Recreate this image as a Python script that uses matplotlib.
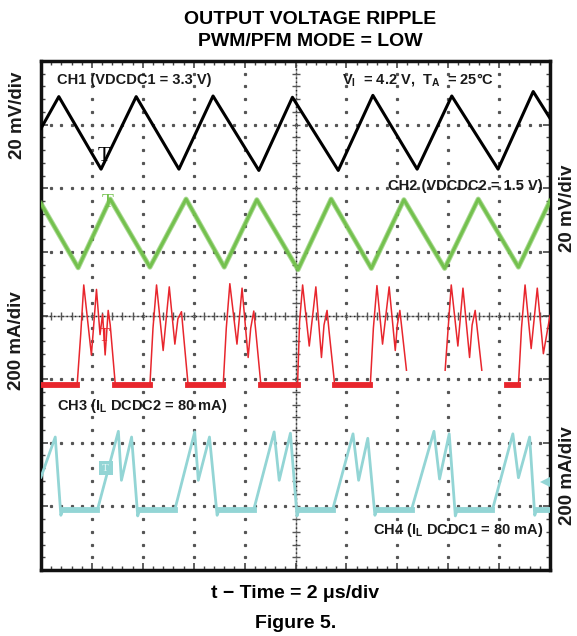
import numpy as np
import matplotlib
matplotlib.use("Agg")
import matplotlib.pyplot as plt

plt.rcParams['font.family'] = ['Liberation Sans', 'DejaVu Sans']
plt.rcParams['mathtext.fontset'] = 'custom'
plt.rcParams['mathtext.rm'] = 'Liberation Sans'
plt.rcParams['mathtext.bf'] = 'Liberation Sans:bold'
plt.rcParams['mathtext.it'] = 'Liberation Sans:italic'

# screen divisions (time: 2 us/div, 10 div; amplitude: 8 div)
# CH1 VDCDC1 ripple (black)
ch1_x = [0.0, 0.35, 1.18, 1.87, 2.71, 3.38, 4.28, 4.94, 5.84, 6.52, 7.39, 8.07, 8.98, 9.67, 10.0]
ch1_y = [2.94, 3.44, 2.30, 3.44, 2.30, 3.45, 2.28, 3.43, 2.28, 3.46, 2.30, 3.45, 2.30, 3.52, 3.10]

# CH2 VDCDC2 ripple (green)
ch2_x = [0.0, 0.73, 1.36, 2.14, 2.85, 3.60, 4.24, 5.05, 5.70, 6.49, 7.13, 7.93, 8.59, 9.38, 10.0]
ch2_y = [1.76, 0.75, 1.83, 0.76, 1.83, 0.76, 1.82, 0.72, 1.83, 0.74, 1.82, 0.74, 1.83, 0.76, 1.80]

# CH3 inductor current DCDC2 (red), nan = no trace
ch3_x = [0.0, 0.71, 0.78, 0.84, 0.99, 1.09, 1.16, 1.21, 1.26, 1.32, 1.36, 1.46,
         2.14, 2.20, 2.27, 2.40, 2.52, 2.63, 2.69, 2.76, 2.80, 2.89,
         3.58, 3.64, 3.71, 3.85, 3.95, 4.07, 4.12, 4.18, 4.22, 4.32,
         5.04, 5.08, 5.14, 5.27, 5.40, 5.51, 5.56, 5.62, 5.66, 5.77,
         6.47, 6.53, 6.60, 6.71, 6.84, 6.96, 7.00, 7.05, 7.18, 7.50,
         7.94, 8.06, 8.19, 8.29, 8.42, 8.47, 8.53, 8.66, 8.90,
         9.16, 9.38, 9.44, 9.51, 9.63, 9.75, 9.87, 10.0]
ch3_y = [-1.09, -1.09, -0.30, 0.48, -0.62, 0.41, -0.30, 0.02, -0.62, 0.08, -0.15, -1.09,
         -1.09, -0.20, 0.48, -0.55, 0.45, -0.45, -0.05, 0.06, -0.30, -1.09,
         -1.09, -0.20, 0.50, -0.45, 0.43, -0.66, -0.20, 0.07, -0.25, -1.09,
         -1.09, -0.10, 0.48, -0.48, 0.45, -0.66, -0.15, 0.08, -0.25, -1.09,
         -1.09, -0.20, 0.47, -0.45, 0.45, -0.55, -0.15, 0.08, -0.86, np.nan,
         -0.86, 0.48, -0.48, 0.43, -0.66, -0.15, 0.08, -0.86, np.nan,
         -1.09, -1.09, -0.20, 0.48, -0.52, 0.43, -0.60, 0.00]

# CH4 inductor current DCDC1 (cyan)
ch4_x = [0.0, 0.28, 0.39, 0.43, 1.11, 1.52, 1.58, 1.78, 1.90, 1.94, 2.63, 3.02, 3.09, 3.31, 3.46, 3.50,
         4.18, 4.58, 4.68, 4.90, 5.03, 5.07, 5.73, 6.13, 6.24, 6.42, 6.56, 6.60,
         7.28, 7.72, 7.83, 8.02, 8.14, 8.18, 8.87, 9.27, 9.38, 9.60, 9.70, 9.74, 10.0]
ch4_y = [-2.54, -1.91, -3.14, -3.05, -3.05, -1.82, -2.59, -1.91, -3.15, -3.05, -3.05, -1.83, -2.59, -1.91, -3.14, -3.05,
         -3.05, -1.83, -2.59, -1.85, -3.15, -3.05, -3.05, -1.86, -2.59, -1.93, -3.14, -3.05,
         -3.05, -1.82, -2.57, -1.86, -3.15, -3.05, -3.05, -1.86, -2.55, -1.91, -3.14, -3.05, -3.05]

BLACK = '#000000'
GREEN = '#74c14e'
RED = '#e8262d'
CYAN = '#93d5d5'
TXT = '#1a1a1a'

W, H = 577, 636
fig = plt.figure(figsize=(W / 100, H / 100), dpi=100)
ax = fig.add_axes([41 / W, 1 - 570 / H, 509 / W, 509 / H])
ax.set_xlim(0, 10)
ax.set_ylim(-4, 4)

# graticule
minor = np.arange(0.2, 10.0, 0.2)
minor_y = np.arange(-3.8, 4.0, 0.2)
for gy in [-3, -2, -1, 1, 2, 3]:
    ax.plot(minor, np.full_like(minor, gy), ls='none', marker='s', ms=1.3, color='#555555', zorder=1)
for gx in [1, 2, 3, 4, 6, 7, 8, 9]:
    ax.plot(np.full_like(minor_y, gx), minor_y, ls='none', marker='s', ms=1.3, color='#555555', zorder=1)
ax.axhline(0, color='#9a9a9a', lw=1.0, zorder=1)
ax.axvline(5, color='#9a9a9a', lw=1.0, zorder=1)
ax.axhline(0, color='#222222', lw=1.0, ls=(0, (1, 2)), zorder=1)
ax.axvline(5, color='#222222', lw=1.0, ls=(0, (1, 2)), zorder=1)
ax.plot(minor, np.zeros_like(minor), ls='none', marker='|', ms=6, mew=1, color='#555555', zorder=1)
ax.plot(np.full_like(minor_y, 5), minor_y, ls='none', marker='_', ms=6, mew=1, color='#555555', zorder=1)

ax.set_xticks(np.arange(0, 10.01, 1))
ax.set_yticks(np.arange(-4, 4.01, 1))
ax.set_xticks(np.arange(0, 10.01, 0.2), minor=True)
ax.set_yticks(np.arange(-4, 4.01, 0.2), minor=True)
ax.tick_params(which='both', direction='in', top=True, right=True,
               labelbottom=False, labelleft=False, color='#444444')
ax.tick_params(which='major', length=5, width=1.2)
ax.tick_params(which='minor', length=3, width=1.0)
for s in ax.spines.values():
    s.set_linewidth(2.5)
    s.set_color('#111111')

# traces
ax.plot(ch1_x, ch1_y, color=BLACK, lw=2.2, zorder=3)
ax.plot(ch2_x, ch2_y, color=GREEN, lw=3.6, alpha=0.6, zorder=3)
ax.plot(ch2_x, ch2_y, color=GREEN, lw=2.2, zorder=3)

c3x = np.array(ch3_x)
c3y = np.array(ch3_y)
ax.plot(c3x, c3y, color=RED, lw=1.1, zorder=3)
base3 = np.where(c3y <= -1.05, c3y, np.nan)
ax.plot(c3x, base3, color=RED, lw=4.2, zorder=3)

c4x = np.array(ch4_x)
c4y = np.array(ch4_y)
ax.plot(c4x, c4y, color=CYAN, lw=2.0, zorder=3)
base4 = np.where(np.isclose(c4y, -3.05), c4y, np.nan)
ax.plot(c4x, base4, color=CYAN, lw=4.2, zorder=3)

# channel ground / trigger markers
ax.text(1.24, 2.50, 'T', family='Liberation Serif', fontsize=15, color=BLACK, ha='center', va='center', zorder=4)
ax.text(1.30, 1.78, 'T', family='Liberation Serif', fontsize=14, color=GREEN, ha='center', va='center', zorder=4)
ax.text(1.25, -0.33, 'T', family='Liberation Serif', fontsize=13, color=RED, ha='center', va='center', zorder=4)
ax.plot([1.27], [-2.40], marker='s', ms=10, color=CYAN, mew=0, zorder=4)
ax.text(1.27, -2.40, 'T', family='Liberation Serif', fontsize=8, color='#e8f7f7', ha='center', va='center', zorder=5)
ax.plot([9.90], [-2.61], marker='<', ms=7, color=CYAN, mew=0, zorder=4, clip_on=False)


def fx(x):
    return x / W


def fy(y):
    return 1 - y / H


# labels inside the screen
kw = dict(fontsize=10.5, fontweight='bold', color=TXT, va='center')
fig.text(fx(57), fy(80), 'CH1 (VDCDC1 = 3.3 V)', ha='left', **kw)
fig.text(fx(342), fy(80), r'$\mathbf{V_I}$  = 4.2 V,  $\mathbf{T_A}$  = 25°C', ha='left', **kw)
fig.text(fx(543), fy(186), 'CH2 (VDCDC2 = 1.5 V)', ha='right', **kw)
fig.text(fx(57), fy(406), r'CH3 ($\mathbf{I_L}$ DCDC2 = 80 mA)', ha='left', **kw)
fig.text(fx(543), fy(530), r'CH4 ($\mathbf{I_L}$ DCDC1 = 80 mA)', ha='right', **kw)

# scale labels
skw = dict(fontsize=13.5, fontweight='bold', color=TXT, rotation=90, ha='center', va='center')
fig.text(fx(18), fy(115), '20 mV/div', **skw)
fig.text(fx(17), fy(341), '200 mA/div', **skw)
fig.text(fx(568), fy(208), '20 mV/div', **skw)
fig.text(fx(568), fy(476), '200 mA/div', **skw)

# titles
tkw = dict(fontsize=14, fontweight='bold', color='#000000', ha='center', va='center')
fig.text(fx(310), fy(19), 'OUTPUT VOLTAGE RIPPLE', **tkw)
fig.text(fx(310), fy(41), 'PWM/PFM MODE = LOW', **tkw)
fig.text(fx(295), fy(593), 't \u2212 Time = 2 \u03bcs/div', **tkw)
fig.text(fx(296), fy(623), 'Figure 5.', **tkw)

fig.savefig('out.png', dpi=100)
